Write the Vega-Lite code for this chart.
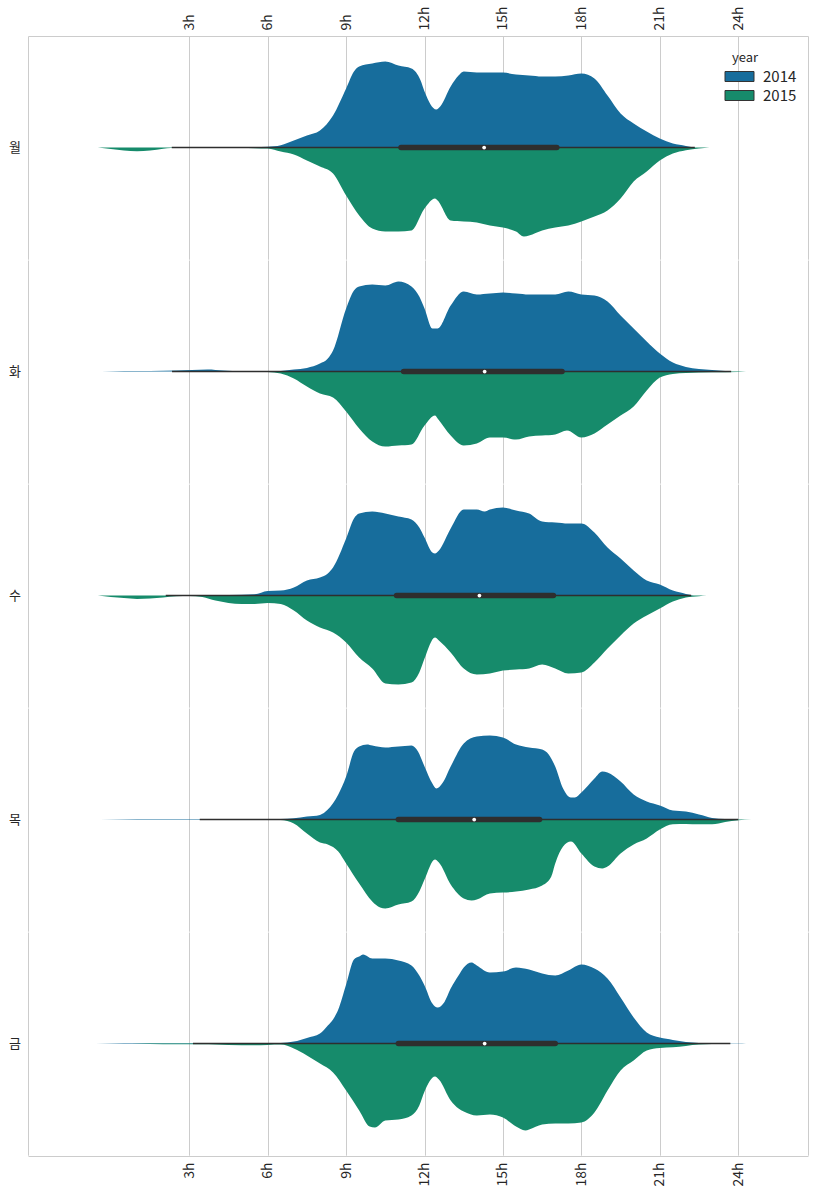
{
  "$schema": "https://vega.github.io/schema/vega-lite/v6.json",
  "padding": {"left": 9, "top": 5, "right": 7, "bottom": 5},
  "config": {
    "view": {"stroke": null},
    "font": "Noto Sans CJK KR",
    "axis": {"labelFont": "Noto Sans CJK KR", "labelColor": "#262626", "labelFontSize": 14}
  },
  "data": {"values": [
    {"day":"월","lo":2.33,"q1":11.1,"med":14.28,"q3":17.06,"hi":22.34},
    {"day":"화","lo":2.34,"q1":11.2,"med":14.3,"q3":17.26,"hi":23.73},
    {"day":"수","lo":2.1,"q1":10.93,"med":14.1,"q3":16.93,"hi":22.2},
    {"day":"목","lo":3.4,"q1":11.0,"med":13.9,"q3":16.4,"hi":24.0},
    {"day":"금","lo":3.14,"q1":11.0,"med":14.3,"q3":17.0,"hi":23.7},

    {"day":"월","year":"2014","hour":2.3,"density":0},
    {"day":"월","year":"2014","hour":3,"density":0.5},
    {"day":"월","year":"2014","hour":4,"density":0.6},
    {"day":"월","year":"2014","hour":5,"density":0.5},
    {"day":"월","year":"2014","hour":6,"density":0.8},
    {"day":"월","year":"2014","hour":6.5,"density":2.3},
    {"day":"월","year":"2014","hour":7,"density":7},
    {"day":"월","year":"2014","hour":7.5,"density":12},
    {"day":"월","year":"2014","hour":8,"density":17},
    {"day":"월","year":"2014","hour":8.5,"density":32},
    {"day":"월","year":"2014","hour":9,"density":59},
    {"day":"월","year":"2014","hour":9.3,"density":76},
    {"day":"월","year":"2014","hour":9.5,"density":81},
    {"day":"월","year":"2014","hour":10,"density":84},
    {"day":"월","year":"2014","hour":10.5,"density":86},
    {"day":"월","year":"2014","hour":11,"density":82},
    {"day":"월","year":"2014","hour":11.5,"density":79},
    {"day":"월","year":"2014","hour":11.85,"density":67},
    {"day":"월","year":"2014","hour":12,"density":56},
    {"day":"월","year":"2014","hour":12.45,"density":38},
    {"day":"월","year":"2014","hour":12.6,"density":41},
    {"day":"월","year":"2014","hour":13,"density":61},
    {"day":"월","year":"2014","hour":13.3,"density":72},
    {"day":"월","year":"2014","hour":13.5,"density":76},
    {"day":"월","year":"2014","hour":14,"density":75},
    {"day":"월","year":"2014","hour":14.5,"density":75},
    {"day":"월","year":"2014","hour":15,"density":75},
    {"day":"월","year":"2014","hour":15.5,"density":73},
    {"day":"월","year":"2014","hour":16,"density":72},
    {"day":"월","year":"2014","hour":16.5,"density":71},
    {"day":"월","year":"2014","hour":17,"density":71},
    {"day":"월","year":"2014","hour":17.5,"density":72},
    {"day":"월","year":"2014","hour":18,"density":74},
    {"day":"월","year":"2014","hour":18.5,"density":69},
    {"day":"월","year":"2014","hour":19,"density":52},
    {"day":"월","year":"2014","hour":19.5,"density":34},
    {"day":"월","year":"2014","hour":20,"density":24},
    {"day":"월","year":"2014","hour":20.5,"density":16},
    {"day":"월","year":"2014","hour":21,"density":9},
    {"day":"월","year":"2014","hour":21.5,"density":4},
    {"day":"월","year":"2014","hour":22,"density":1.7},
    {"day":"월","year":"2014","hour":22.3,"density":0},

    {"day":"월","year":"2015","hour":-0.5,"density":0},
    {"day":"월","year":"2015","hour":0,"density":1.5},
    {"day":"월","year":"2015","hour":0.5,"density":3},
    {"day":"월","year":"2015","hour":1,"density":3.7},
    {"day":"월","year":"2015","hour":1.5,"density":3},
    {"day":"월","year":"2015","hour":2,"density":1.2},
    {"day":"월","year":"2015","hour":2.3,"density":0.5},
    {"day":"월","year":"2015","hour":3,"density":0.3},
    {"day":"월","year":"2015","hour":4,"density":0.3},
    {"day":"월","year":"2015","hour":5,"density":0.4},
    {"day":"월","year":"2015","hour":5.5,"density":0.6},
    {"day":"월","year":"2015","hour":6,"density":1},
    {"day":"월","year":"2015","hour":6.5,"density":4},
    {"day":"월","year":"2015","hour":7,"density":7},
    {"day":"월","year":"2015","hour":7.5,"density":13},
    {"day":"월","year":"2015","hour":8,"density":19},
    {"day":"월","year":"2015","hour":8.5,"density":26},
    {"day":"월","year":"2015","hour":9,"density":48},
    {"day":"월","year":"2015","hour":9.5,"density":68},
    {"day":"월","year":"2015","hour":10,"density":81},
    {"day":"월","year":"2015","hour":10.5,"density":84},
    {"day":"월","year":"2015","hour":11,"density":84},
    {"day":"월","year":"2015","hour":11.5,"density":83},
    {"day":"월","year":"2015","hour":12,"density":61},
    {"day":"월","year":"2015","hour":12.4,"density":51},
    {"day":"월","year":"2015","hour":12.5,"density":53},
    {"day":"월","year":"2015","hour":13,"density":73},
    {"day":"월","year":"2015","hour":13.5,"density":74},
    {"day":"월","year":"2015","hour":14,"density":75},
    {"day":"월","year":"2015","hour":14.5,"density":78},
    {"day":"월","year":"2015","hour":15,"density":80},
    {"day":"월","year":"2015","hour":15.5,"density":84},
    {"day":"월","year":"2015","hour":15.8,"density":89},
    {"day":"월","year":"2015","hour":16,"density":88},
    {"day":"월","year":"2015","hour":16.5,"density":83},
    {"day":"월","year":"2015","hour":17,"density":80},
    {"day":"월","year":"2015","hour":17.5,"density":78},
    {"day":"월","year":"2015","hour":18,"density":74},
    {"day":"월","year":"2015","hour":18.5,"density":69},
    {"day":"월","year":"2015","hour":19,"density":63},
    {"day":"월","year":"2015","hour":19.5,"density":51},
    {"day":"월","year":"2015","hour":20,"density":34},
    {"day":"월","year":"2015","hour":20.5,"density":24},
    {"day":"월","year":"2015","hour":21,"density":13},
    {"day":"월","year":"2015","hour":21.5,"density":6},
    {"day":"월","year":"2015","hour":22,"density":2.7},
    {"day":"월","year":"2015","hour":22.5,"density":1},
    {"day":"월","year":"2015","hour":22.9,"density":0},

    {"day":"화","year":"2014","hour":-0.35,"density":0},
    {"day":"화","year":"2014","hour":0.5,"density":0.5},
    {"day":"화","year":"2014","hour":1.5,"density":0.7},
    {"day":"화","year":"2014","hour":2.5,"density":1},
    {"day":"화","year":"2014","hour":3.7,"density":2},
    {"day":"화","year":"2014","hour":4.3,"density":1},
    {"day":"화","year":"2014","hour":5,"density":0.4},
    {"day":"화","year":"2014","hour":6,"density":0.4},
    {"day":"화","year":"2014","hour":6.5,"density":0.7},
    {"day":"화","year":"2014","hour":7,"density":2},
    {"day":"화","year":"2014","hour":7.5,"density":3.7},
    {"day":"화","year":"2014","hour":8,"density":8},
    {"day":"화","year":"2014","hour":8.3,"density":13},
    {"day":"화","year":"2014","hour":8.5,"density":21},
    {"day":"화","year":"2014","hour":9,"density":63},
    {"day":"화","year":"2014","hour":9.3,"density":81},
    {"day":"화","year":"2014","hour":9.5,"density":85},
    {"day":"화","year":"2014","hour":10,"density":87},
    {"day":"화","year":"2014","hour":10.5,"density":86},
    {"day":"화","year":"2014","hour":11,"density":90},
    {"day":"화","year":"2014","hour":11.5,"density":85},
    {"day":"화","year":"2014","hour":11.8,"density":75},
    {"day":"화","year":"2014","hour":12,"density":63},
    {"day":"화","year":"2014","hour":12.3,"density":43},
    {"day":"화","year":"2014","hour":12.5,"density":43},
    {"day":"화","year":"2014","hour":13,"density":66},
    {"day":"화","year":"2014","hour":13.5,"density":80},
    {"day":"화","year":"2014","hour":14,"density":77},
    {"day":"화","year":"2014","hour":14.5,"density":78},
    {"day":"화","year":"2014","hour":15,"density":79},
    {"day":"화","year":"2014","hour":15.5,"density":78},
    {"day":"화","year":"2014","hour":16,"density":77},
    {"day":"화","year":"2014","hour":16.5,"density":77},
    {"day":"화","year":"2014","hour":17,"density":77},
    {"day":"화","year":"2014","hour":17.5,"density":80},
    {"day":"화","year":"2014","hour":18,"density":77},
    {"day":"화","year":"2014","hour":18.5,"density":76},
    {"day":"화","year":"2014","hour":19,"density":70},
    {"day":"화","year":"2014","hour":19.5,"density":56},
    {"day":"화","year":"2014","hour":20,"density":43},
    {"day":"화","year":"2014","hour":20.5,"density":30},
    {"day":"화","year":"2014","hour":21,"density":18},
    {"day":"화","year":"2014","hour":21.5,"density":9},
    {"day":"화","year":"2014","hour":22,"density":4.7},
    {"day":"화","year":"2014","hour":22.5,"density":2.7},
    {"day":"화","year":"2014","hour":23,"density":1.7},
    {"day":"화","year":"2014","hour":23.5,"density":0.7},
    {"day":"화","year":"2014","hour":23.7,"density":0},

    {"day":"화","year":"2015","hour":2.3,"density":0},
    {"day":"화","year":"2015","hour":3,"density":0.3},
    {"day":"화","year":"2015","hour":4,"density":0.3},
    {"day":"화","year":"2015","hour":5,"density":0.3},
    {"day":"화","year":"2015","hour":6,"density":0.5},
    {"day":"화","year":"2015","hour":6.5,"density":2},
    {"day":"화","year":"2015","hour":7,"density":7},
    {"day":"화","year":"2015","hour":7.5,"density":15},
    {"day":"화","year":"2015","hour":8,"density":22},
    {"day":"화","year":"2015","hour":8.5,"density":26},
    {"day":"화","year":"2015","hour":9,"density":40},
    {"day":"화","year":"2015","hour":9.5,"density":57},
    {"day":"화","year":"2015","hour":10,"density":70},
    {"day":"화","year":"2015","hour":10.5,"density":75},
    {"day":"화","year":"2015","hour":11,"density":74},
    {"day":"화","year":"2015","hour":11.5,"density":73},
    {"day":"화","year":"2015","hour":12,"density":54},
    {"day":"화","year":"2015","hour":12.4,"density":44},
    {"day":"화","year":"2015","hour":12.5,"density":47},
    {"day":"화","year":"2015","hour":13,"density":64},
    {"day":"화","year":"2015","hour":13.5,"density":74},
    {"day":"화","year":"2015","hour":14,"density":72},
    {"day":"화","year":"2015","hour":14.5,"density":66},
    {"day":"화","year":"2015","hour":15,"density":66},
    {"day":"화","year":"2015","hour":15.5,"density":68},
    {"day":"화","year":"2015","hour":16,"density":65},
    {"day":"화","year":"2015","hour":16.5,"density":64},
    {"day":"화","year":"2015","hour":17,"density":63},
    {"day":"화","year":"2015","hour":17.45,"density":59},
    {"day":"화","year":"2015","hour":18,"density":66},
    {"day":"화","year":"2015","hour":18.5,"density":62},
    {"day":"화","year":"2015","hour":19,"density":53},
    {"day":"화","year":"2015","hour":19.5,"density":44},
    {"day":"화","year":"2015","hour":20,"density":35},
    {"day":"화","year":"2015","hour":20.5,"density":19},
    {"day":"화","year":"2015","hour":21,"density":6},
    {"day":"화","year":"2015","hour":21.5,"density":2.3},
    {"day":"화","year":"2015","hour":22,"density":1.3},
    {"day":"화","year":"2015","hour":23,"density":0.7},
    {"day":"화","year":"2015","hour":24,"density":0.4},
    {"day":"화","year":"2015","hour":24.3,"density":0},

    {"day":"수","year":"2014","hour":1.5,"density":0},
    {"day":"수","year":"2014","hour":3,"density":0.3},
    {"day":"수","year":"2014","hour":4,"density":0.5},
    {"day":"수","year":"2014","hour":5,"density":0.8},
    {"day":"수","year":"2014","hour":5.5,"density":1.3},
    {"day":"수","year":"2014","hour":6,"density":4.7},
    {"day":"수","year":"2014","hour":6.5,"density":5},
    {"day":"수","year":"2014","hour":7,"density":8},
    {"day":"수","year":"2014","hour":7.5,"density":15},
    {"day":"수","year":"2014","hour":8,"density":18},
    {"day":"수","year":"2014","hour":8.3,"density":22},
    {"day":"수","year":"2014","hour":8.5,"density":28},
    {"day":"수","year":"2014","hour":9,"density":57},
    {"day":"수","year":"2014","hour":9.3,"density":77},
    {"day":"수","year":"2014","hour":9.5,"density":82},
    {"day":"수","year":"2014","hour":10,"density":84},
    {"day":"수","year":"2014","hour":10.5,"density":82},
    {"day":"수","year":"2014","hour":11,"density":79},
    {"day":"수","year":"2014","hour":11.5,"density":76},
    {"day":"수","year":"2014","hour":11.8,"density":68},
    {"day":"수","year":"2014","hour":12,"density":58},
    {"day":"수","year":"2014","hour":12.3,"density":43},
    {"day":"수","year":"2014","hour":12.4,"density":42},
    {"day":"수","year":"2014","hour":12.55,"density":45},
    {"day":"수","year":"2014","hour":13,"density":67},
    {"day":"수","year":"2014","hour":13.5,"density":86},
    {"day":"수","year":"2014","hour":14,"density":86},
    {"day":"수","year":"2014","hour":14.3,"density":84},
    {"day":"수","year":"2014","hour":14.5,"density":86},
    {"day":"수","year":"2014","hour":15,"density":88},
    {"day":"수","year":"2014","hour":15.5,"density":85},
    {"day":"수","year":"2014","hour":16,"density":82},
    {"day":"수","year":"2014","hour":16.5,"density":74},
    {"day":"수","year":"2014","hour":17,"density":73},
    {"day":"수","year":"2014","hour":17.5,"density":72},
    {"day":"수","year":"2014","hour":18,"density":72},
    {"day":"수","year":"2014","hour":18.5,"density":63},
    {"day":"수","year":"2014","hour":19,"density":48},
    {"day":"수","year":"2014","hour":19.5,"density":37},
    {"day":"수","year":"2014","hour":20,"density":25},
    {"day":"수","year":"2014","hour":20.5,"density":15},
    {"day":"수","year":"2014","hour":21,"density":11},
    {"day":"수","year":"2014","hour":21.5,"density":5},
    {"day":"수","year":"2014","hour":22,"density":1.7},
    {"day":"수","year":"2014","hour":22.3,"density":0},

    {"day":"수","year":"2015","hour":-0.5,"density":0},
    {"day":"수","year":"2015","hour":0,"density":1.5},
    {"day":"수","year":"2015","hour":0.5,"density":2.5},
    {"day":"수","year":"2015","hour":1,"density":3.3},
    {"day":"수","year":"2015","hour":1.5,"density":3},
    {"day":"수","year":"2015","hour":2,"density":2},
    {"day":"수","year":"2015","hour":2.5,"density":0.7},
    {"day":"수","year":"2015","hour":3,"density":0.3},
    {"day":"수","year":"2015","hour":3.5,"density":1.5},
    {"day":"수","year":"2015","hour":4,"density":5},
    {"day":"수","year":"2015","hour":4.5,"density":7.3},
    {"day":"수","year":"2015","hour":5,"density":8.3},
    {"day":"수","year":"2015","hour":5.5,"density":8.3},
    {"day":"수","year":"2015","hour":6,"density":7.3},
    {"day":"수","year":"2015","hour":6.5,"density":8.3},
    {"day":"수","year":"2015","hour":7,"density":15},
    {"day":"수","year":"2015","hour":7.5,"density":25},
    {"day":"수","year":"2015","hour":8,"density":32},
    {"day":"수","year":"2015","hour":8.5,"density":37},
    {"day":"수","year":"2015","hour":9,"density":47},
    {"day":"수","year":"2015","hour":9.5,"density":62},
    {"day":"수","year":"2015","hour":10,"density":73},
    {"day":"수","year":"2015","hour":10.5,"density":88},
    {"day":"수","year":"2015","hour":11,"density":89},
    {"day":"수","year":"2015","hour":11.5,"density":87},
    {"day":"수","year":"2015","hour":11.8,"density":77},
    {"day":"수","year":"2015","hour":12,"density":63},
    {"day":"수","year":"2015","hour":12.4,"density":42},
    {"day":"수","year":"2015","hour":12.55,"density":45},
    {"day":"수","year":"2015","hour":13,"density":57},
    {"day":"수","year":"2015","hour":13.5,"density":73},
    {"day":"수","year":"2015","hour":14,"density":79},
    {"day":"수","year":"2015","hour":14.5,"density":78},
    {"day":"수","year":"2015","hour":15,"density":75},
    {"day":"수","year":"2015","hour":15.5,"density":74},
    {"day":"수","year":"2015","hour":16,"density":73},
    {"day":"수","year":"2015","hour":16.5,"density":69},
    {"day":"수","year":"2015","hour":17,"density":73},
    {"day":"수","year":"2015","hour":17.5,"density":78},
    {"day":"수","year":"2015","hour":18,"density":77},
    {"day":"수","year":"2015","hour":18.5,"density":67},
    {"day":"수","year":"2015","hour":19,"density":53},
    {"day":"수","year":"2015","hour":19.5,"density":40},
    {"day":"수","year":"2015","hour":20,"density":28},
    {"day":"수","year":"2015","hour":20.5,"density":20},
    {"day":"수","year":"2015","hour":21,"density":13},
    {"day":"수","year":"2015","hour":21.5,"density":6},
    {"day":"수","year":"2015","hour":22,"density":2},
    {"day":"수","year":"2015","hour":22.5,"density":0.7},
    {"day":"수","year":"2015","hour":22.8,"density":0},

    {"day":"목","year":"2014","hour":-0.4,"density":0},
    {"day":"목","year":"2014","hour":1,"density":0.6},
    {"day":"목","year":"2014","hour":2,"density":0.7},
    {"day":"목","year":"2014","hour":3,"density":0.6},
    {"day":"목","year":"2014","hour":4,"density":0.5},
    {"day":"목","year":"2014","hour":5,"density":0.4},
    {"day":"목","year":"2014","hour":6,"density":0.3},
    {"day":"목","year":"2014","hour":6.5,"density":0.5},
    {"day":"목","year":"2014","hour":7,"density":1.3},
    {"day":"목","year":"2014","hour":7.5,"density":3},
    {"day":"목","year":"2014","hour":8,"density":4.7},
    {"day":"목","year":"2014","hour":8.3,"density":10},
    {"day":"목","year":"2014","hour":8.7,"density":25},
    {"day":"목","year":"2014","hour":9,"density":43},
    {"day":"목","year":"2014","hour":9.3,"density":68},
    {"day":"목","year":"2014","hour":9.5,"density":73},
    {"day":"목","year":"2014","hour":9.8,"density":75},
    {"day":"목","year":"2014","hour":10,"density":74},
    {"day":"목","year":"2014","hour":10.5,"density":72},
    {"day":"목","year":"2014","hour":11,"density":73},
    {"day":"목","year":"2014","hour":11.5,"density":74},
    {"day":"목","year":"2014","hour":11.75,"density":68},
    {"day":"목","year":"2014","hour":12,"density":53},
    {"day":"목","year":"2014","hour":12.3,"density":36},
    {"day":"목","year":"2014","hour":12.45,"density":31},
    {"day":"목","year":"2014","hour":12.7,"density":37},
    {"day":"목","year":"2014","hour":13,"density":53},
    {"day":"목","year":"2014","hour":13.5,"density":76},
    {"day":"목","year":"2014","hour":14,"density":83},
    {"day":"목","year":"2014","hour":14.5,"density":84},
    {"day":"목","year":"2014","hour":15,"density":82},
    {"day":"목","year":"2014","hour":15.5,"density":75},
    {"day":"목","year":"2014","hour":16,"density":72},
    {"day":"목","year":"2014","hour":16.5,"density":70},
    {"day":"목","year":"2014","hour":16.75,"density":65},
    {"day":"목","year":"2014","hour":17,"density":53},
    {"day":"목","year":"2014","hour":17.3,"density":31},
    {"day":"목","year":"2014","hour":17.6,"density":22},
    {"day":"목","year":"2014","hour":17.75,"density":22},
    {"day":"목","year":"2014","hour":18,"density":27},
    {"day":"목","year":"2014","hour":18.5,"density":41},
    {"day":"목","year":"2014","hour":18.8,"density":48},
    {"day":"목","year":"2014","hour":19,"density":47},
    {"day":"목","year":"2014","hour":19.5,"density":38},
    {"day":"목","year":"2014","hour":20,"density":25},
    {"day":"목","year":"2014","hour":20.5,"density":18},
    {"day":"목","year":"2014","hour":21,"density":14},
    {"day":"목","year":"2014","hour":21.5,"density":9},
    {"day":"목","year":"2014","hour":22,"density":8},
    {"day":"목","year":"2014","hour":22.5,"density":5},
    {"day":"목","year":"2014","hour":23,"density":1.7},
    {"day":"목","year":"2014","hour":23.5,"density":0.7},
    {"day":"목","year":"2014","hour":24,"density":0},

    {"day":"목","year":"2015","hour":3.4,"density":0},
    {"day":"목","year":"2015","hour":4,"density":0.3},
    {"day":"목","year":"2015","hour":5,"density":0.3},
    {"day":"목","year":"2015","hour":6,"density":0.3},
    {"day":"목","year":"2015","hour":6.5,"density":0.5},
    {"day":"목","year":"2015","hour":7,"density":4},
    {"day":"목","year":"2015","hour":7.5,"density":14},
    {"day":"목","year":"2015","hour":8,"density":23},
    {"day":"목","year":"2015","hour":8.3,"density":25},
    {"day":"목","year":"2015","hour":8.7,"density":32},
    {"day":"목","year":"2015","hour":9,"density":44},
    {"day":"목","year":"2015","hour":9.5,"density":64},
    {"day":"목","year":"2015","hour":10,"density":82},
    {"day":"목","year":"2015","hour":10.3,"density":88},
    {"day":"목","year":"2015","hour":10.5,"density":89},
    {"day":"목","year":"2015","hour":11,"density":85},
    {"day":"목","year":"2015","hour":11.5,"density":82},
    {"day":"목","year":"2015","hour":11.8,"density":72},
    {"day":"목","year":"2015","hour":12,"density":60},
    {"day":"목","year":"2015","hour":12.4,"density":40},
    {"day":"목","year":"2015","hour":12.55,"density":43},
    {"day":"목","year":"2015","hour":13,"density":65},
    {"day":"목","year":"2015","hour":13.5,"density":79},
    {"day":"목","year":"2015","hour":13.8,"density":81},
    {"day":"목","year":"2015","hour":14,"density":80},
    {"day":"목","year":"2015","hour":14.5,"density":74},
    {"day":"목","year":"2015","hour":15,"density":73},
    {"day":"목","year":"2015","hour":15.5,"density":72},
    {"day":"목","year":"2015","hour":16,"density":70},
    {"day":"목","year":"2015","hour":16.5,"density":66},
    {"day":"목","year":"2015","hour":16.85,"density":57},
    {"day":"목","year":"2015","hour":17,"density":44},
    {"day":"목","year":"2015","hour":17.3,"density":27},
    {"day":"목","year":"2015","hour":17.6,"density":22},
    {"day":"목","year":"2015","hour":18,"density":34},
    {"day":"목","year":"2015","hour":18.5,"density":47},
    {"day":"목","year":"2015","hour":18.8,"density":49},
    {"day":"목","year":"2015","hour":19,"density":47},
    {"day":"목","year":"2015","hour":19.5,"density":34},
    {"day":"목","year":"2015","hour":20,"density":25},
    {"day":"목","year":"2015","hour":20.5,"density":19},
    {"day":"목","year":"2015","hour":21,"density":10},
    {"day":"목","year":"2015","hour":21.5,"density":4.7},
    {"day":"목","year":"2015","hour":22,"density":4.3},
    {"day":"목","year":"2015","hour":22.5,"density":4.7},
    {"day":"목","year":"2015","hour":23,"density":4.7},
    {"day":"목","year":"2015","hour":23.5,"density":2.3},
    {"day":"목","year":"2015","hour":24,"density":0.7},
    {"day":"목","year":"2015","hour":24.5,"density":0},

    {"day":"금","year":"2014","hour":-0.57,"density":0},
    {"day":"금","year":"2014","hour":0.5,"density":0.5},
    {"day":"금","year":"2014","hour":1.5,"density":0.6},
    {"day":"금","year":"2014","hour":2.5,"density":0.6},
    {"day":"금","year":"2014","hour":3.5,"density":0.5},
    {"day":"금","year":"2014","hour":4.5,"density":0.4},
    {"day":"금","year":"2014","hour":5.5,"density":0.3},
    {"day":"금","year":"2014","hour":6,"density":0.4},
    {"day":"금","year":"2014","hour":6.5,"density":0.7},
    {"day":"금","year":"2014","hour":7,"density":2},
    {"day":"금","year":"2014","hour":7.5,"density":5.7},
    {"day":"금","year":"2014","hour":8,"density":10},
    {"day":"금","year":"2014","hour":8.3,"density":18},
    {"day":"금","year":"2014","hour":8.5,"density":24},
    {"day":"금","year":"2014","hour":8.7,"density":34},
    {"day":"금","year":"2014","hour":9,"density":59},
    {"day":"금","year":"2014","hour":9.3,"density":84},
    {"day":"금","year":"2014","hour":9.5,"density":87},
    {"day":"금","year":"2014","hour":9.65,"density":89},
    {"day":"금","year":"2014","hour":10,"density":85},
    {"day":"금","year":"2014","hour":10.5,"density":85},
    {"day":"금","year":"2014","hour":11,"density":83},
    {"day":"금","year":"2014","hour":11.5,"density":78},
    {"day":"금","year":"2014","hour":11.8,"density":68},
    {"day":"금","year":"2014","hour":12,"density":58},
    {"day":"금","year":"2014","hour":12.3,"density":40},
    {"day":"금","year":"2014","hour":12.5,"density":36},
    {"day":"금","year":"2014","hour":12.75,"density":41},
    {"day":"금","year":"2014","hour":13,"density":55},
    {"day":"금","year":"2014","hour":13.3,"density":68},
    {"day":"금","year":"2014","hour":13.5,"density":76},
    {"day":"금","year":"2014","hour":13.8,"density":81},
    {"day":"금","year":"2014","hour":14,"density":78},
    {"day":"금","year":"2014","hour":14.5,"density":71},
    {"day":"금","year":"2014","hour":15,"density":72},
    {"day":"금","year":"2014","hour":15.5,"density":76},
    {"day":"금","year":"2014","hour":16,"density":74},
    {"day":"금","year":"2014","hour":16.5,"density":70},
    {"day":"금","year":"2014","hour":17,"density":68},
    {"day":"금","year":"2014","hour":17.5,"density":73},
    {"day":"금","year":"2014","hour":18,"density":79},
    {"day":"금","year":"2014","hour":18.5,"density":75},
    {"day":"금","year":"2014","hour":19,"density":65},
    {"day":"금","year":"2014","hour":19.5,"density":46},
    {"day":"금","year":"2014","hour":20,"density":26},
    {"day":"금","year":"2014","hour":20.5,"density":11},
    {"day":"금","year":"2014","hour":21,"density":6},
    {"day":"금","year":"2014","hour":21.5,"density":3.7},
    {"day":"금","year":"2014","hour":22,"density":1.7},
    {"day":"금","year":"2014","hour":22.5,"density":0.7},
    {"day":"금","year":"2014","hour":23,"density":0.4},
    {"day":"금","year":"2014","hour":24,"density":0.3},
    {"day":"금","year":"2014","hour":24.3,"density":0},

    {"day":"금","year":"2015","hour":0.8,"density":0},
    {"day":"금","year":"2015","hour":1.5,"density":0.5},
    {"day":"금","year":"2015","hour":2.5,"density":0.7},
    {"day":"금","year":"2015","hour":3.5,"density":0.7},
    {"day":"금","year":"2015","hour":4,"density":1},
    {"day":"금","year":"2015","hour":5,"density":1.7},
    {"day":"금","year":"2015","hour":6,"density":1.3},
    {"day":"금","year":"2015","hour":6.5,"density":1},
    {"day":"금","year":"2015","hour":7,"density":5},
    {"day":"금","year":"2015","hour":7.5,"density":12},
    {"day":"금","year":"2015","hour":8,"density":20},
    {"day":"금","year":"2015","hour":8.5,"density":29},
    {"day":"금","year":"2015","hour":9,"density":47},
    {"day":"금","year":"2015","hour":9.5,"density":67},
    {"day":"금","year":"2015","hour":9.9,"density":83},
    {"day":"금","year":"2015","hour":10.1,"density":84},
    {"day":"금","year":"2015","hour":10.5,"density":77},
    {"day":"금","year":"2015","hour":11,"density":76},
    {"day":"금","year":"2015","hour":11.5,"density":72},
    {"day":"금","year":"2015","hour":11.8,"density":62},
    {"day":"금","year":"2015","hour":12,"density":48},
    {"day":"금","year":"2015","hour":12.4,"density":33},
    {"day":"금","year":"2015","hour":12.55,"density":36},
    {"day":"금","year":"2015","hour":13,"density":57},
    {"day":"금","year":"2015","hour":13.3,"density":65},
    {"day":"금","year":"2015","hour":13.5,"density":68},
    {"day":"금","year":"2015","hour":14,"density":72},
    {"day":"금","year":"2015","hour":14.5,"density":71},
    {"day":"금","year":"2015","hour":15,"density":74},
    {"day":"금","year":"2015","hour":15.5,"density":83},
    {"day":"금","year":"2015","hour":15.85,"density":87},
    {"day":"금","year":"2015","hour":16,"density":86},
    {"day":"금","year":"2015","hour":16.5,"density":81},
    {"day":"금","year":"2015","hour":17,"density":80},
    {"day":"금","year":"2015","hour":17.5,"density":80},
    {"day":"금","year":"2015","hour":18,"density":79},
    {"day":"금","year":"2015","hour":18.5,"density":69},
    {"day":"금","year":"2015","hour":19,"density":47},
    {"day":"금","year":"2015","hour":19.5,"density":27},
    {"day":"금","year":"2015","hour":20,"density":17},
    {"day":"금","year":"2015","hour":20.5,"density":7},
    {"day":"금","year":"2015","hour":21,"density":4.3},
    {"day":"금","year":"2015","hour":21.5,"density":3.7},
    {"day":"금","year":"2015","hour":22,"density":2.3},
    {"day":"금","year":"2015","hour":22.5,"density":1},
    {"day":"금","year":"2015","hour":23,"density":0.3},
    {"day":"금","year":"2015","hour":23.5,"density":0}
  ]},
  "facet": {
    "row": {
      "field": "day",
      "type": "nominal",
      "sort": ["월", "화", "수", "목", "금"],
      "header": {
        "title": null,
        "labelAngle": 0,
        "labelFont": "Noto Sans CJK KR",
        "labelFontSize": 13,
        "labelColor": "#262626",
        "labelPadding": -5
      }
    }
  },
  "spacing": 0,
  "resolve": {"scale": {"y": "independent"}, "axis": {"y": "independent"}},
  "spec": {
    "width": 780,
    "height": 223.2,
    "layer": [
      {
        "transform": [{"filter": "datum.year == '2014'"}],
        "mark": {"type": "area", "interpolate": "monotone"},
        "encoding": {
          "x": {
            "field": "hour", "type": "quantitative",
            "scale": {"domain": [-3.17, 26.67], "nice": false, "zero": false},
            "axis": {
              "orient": "bottom", "title": null, "values": [3, 6, 9, 12, 15, 18, 21, 24],
              "labelExpr": "datum.value + 'h'", "labelAngle": -90, "ticks": false,
              "labelPadding": 6, "grid": true, "gridColor": "#cccccc",
              "domain": true, "domainColor": "#cccccc"
            }
          },
          "y": {
            "field": "density", "type": "quantitative",
            "scale": {"domain": [-111.6, 111.6]},
            "axis": {"orient": "left", "title": null, "labels": false, "ticks": false, "grid": false, "domainColor": "#cccccc", "minExtent": 0, "maxExtent": 0}
          },
          "color": {
            "field": "year", "type": "nominal",
            "scale": {"domain": ["2014", "2015"], "range": ["#176d9c", "#168b6b"]},
            "legend": {
              "orient": "none", "legendX": 704, "legendY": 16,
              "title": "year", "titleFontWeight": "normal", "titleFontSize": 13, "titleColor": "#262626",
              "titlePadding": 4,
              "labelFontSize": 15, "labelColor": "#262626", "labelOffset": 16,
              "rowPadding": 3,
              "symbolType": "M-2.9,-1H2.9V1H-2.9Z", "symbolSize": 100,
              "symbolStrokeColor": "#333333", "symbolStrokeWidth": 1, "symbolOpacity": 1
            }
          }
        }
      },
      {
        "transform": [{"filter": "datum.year == '2015'"}],
        "mark": {"type": "area", "interpolate": "monotone"},
        "encoding": {
          "x": {
            "field": "hour", "type": "quantitative",
            "scale": {"domain": [-3.17, 26.67], "nice": false, "zero": false},
            "axis": {
              "orient": "top", "title": null, "values": [3, 6, 9, 12, 15, 18, 21, 24],
              "labelExpr": "datum.value + 'h'", "labelAngle": -90, "ticks": false,
              "labelPadding": 6, "grid": false,
              "domain": true, "domainColor": "#cccccc"
            }
          },
          "y": {
            "field": "density", "type": "quantitative",
            "scale": {"domain": [-111.6, 111.6], "reverse": true},
            "axis": {"orient": "right", "title": null, "labels": false, "ticks": false, "grid": false, "domainColor": "#cccccc", "minExtent": 0, "maxExtent": 0}
          },
          "color": {"field": "year", "type": "nominal"}
        }
      },
      {
        "transform": [{"filter": "isValid(datum.lo)"}],
        "mark": {"type": "rule", "color": "#2e2e2e", "strokeWidth": 1.5},
        "encoding": {
          "x": {"field": "lo", "type": "quantitative", "axis": null},
          "x2": {"field": "hi"},
          "y": {"datum": 0, "type": "quantitative", "scale": {"domain": [-1, 1]}, "axis": null}
        }
      },
      {
        "transform": [{"filter": "isValid(datum.q1)"}],
        "mark": {"type": "rule", "color": "#2e2e2e", "strokeWidth": 5.5, "strokeCap": "round"},
        "encoding": {
          "x": {"field": "q1", "type": "quantitative", "axis": null},
          "x2": {"field": "q3"},
          "y": {"datum": 0, "type": "quantitative", "scale": {"domain": [-1, 1]}, "axis": null}
        }
      },
      {
        "transform": [{"filter": "isValid(datum.med)"}],
        "mark": {"type": "point", "filled": true, "color": "white", "opacity": 1, "size": 14},
        "encoding": {
          "x": {"field": "med", "type": "quantitative", "axis": null},
          "y": {"datum": 0, "type": "quantitative", "scale": {"domain": [-1, 1]}, "axis": null}
        }
      }
    ],
    "resolve": {"scale": {"y": "independent"}, "axis": {"x": "independent", "y": "independent"}}
  }
}
